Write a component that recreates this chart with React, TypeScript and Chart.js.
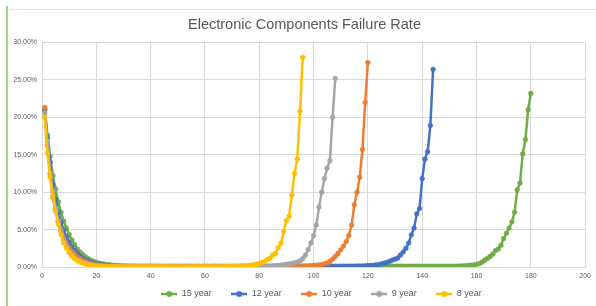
import React, { useEffect, useRef } from "react";
import { Chart, registerables } from "chart.js";

Chart.register(...registerables);

const seriesNames = ["15 year", "12 year", "10 year", "9 year", "8 year"];
const seriesColors = ["#70AD47", "#4472C4", "#ED7D31", "#A5A5A5", "#FFC000"];

const xTicks = [0, 20, 40, 60, 80, 100, 120, 140, 160, 180, 200];
const yTicks = [0, 5, 10, 15, 20, 25, 30];

// failure rate in %, one value per month starting at month 1
const year15 = [
  21.0, 17.6, 14.8, 12.2, 10.4, 8.7, 7.3, 6.1, 5.2, 4.3,
  3.6, 3.0, 2.4, 2.0, 1.65, 1.35, 1.1, 0.9, 0.75, 0.62,
  0.52, 0.44, 0.37, 0.31, 0.27, 0.23, 0.2, 0.18, 0.16, 0.15,
  0.14, 0.13, 0.13, 0.12, 0.12, 0.12, 0.11, 0.11, 0.11, 0.11,
  0.1, 0.1, 0.1, 0.1, 0.1, 0.1, 0.1, 0.1, 0.1, 0.1,
  0.1, 0.1, 0.1, 0.1, 0.1, 0.1, 0.1, 0.1, 0.1, 0.1,
  0.1, 0.1, 0.1, 0.1, 0.1, 0.1, 0.1, 0.1, 0.1, 0.1,
  0.1, 0.1, 0.1, 0.1, 0.1, 0.1, 0.1, 0.1, 0.1, 0.1,
  0.1, 0.1, 0.1, 0.1, 0.1, 0.1, 0.1, 0.1, 0.1, 0.1,
  0.1, 0.1, 0.1, 0.1, 0.1, 0.1, 0.1, 0.1, 0.1, 0.1,
  0.1, 0.1, 0.1, 0.1, 0.1, 0.1, 0.1, 0.1, 0.1, 0.1,
  0.1, 0.1, 0.1, 0.1, 0.1, 0.1, 0.1, 0.1, 0.1, 0.1,
  0.1, 0.1, 0.1, 0.1, 0.1, 0.1, 0.1, 0.1, 0.1, 0.1,
  0.1, 0.1, 0.1, 0.1, 0.1, 0.1, 0.1, 0.1, 0.1, 0.1,
  0.1, 0.1, 0.1, 0.1, 0.1, 0.1, 0.1, 0.1, 0.1, 0.1,
  0.1, 0.11, 0.12, 0.13, 0.15, 0.17, 0.2, 0.24, 0.28, 0.34,
  0.45, 0.65, 0.9, 1.15, 1.4, 1.7, 2.2, 2.4, 2.9, 3.8,
  4.5, 5.2, 6.0, 7.3, 10.3, 11.2, 15.1, 17.0, 21.0, 23.2,
];

const year12 = [
  21.0, 17.2, 14.0, 11.0, 9.0, 7.3, 6.0, 4.9, 4.0, 3.3,
  2.7, 2.2, 1.8, 1.45, 1.18, 0.96, 0.78, 0.63, 0.51, 0.41,
  0.33, 0.27, 0.22, 0.18, 0.15, 0.12, 0.1, 0.09, 0.08, 0.08,
  0.07, 0.07, 0.06, 0.06, 0.06, 0.05, 0.05, 0.05, 0.05, 0.05,
  0.05, 0.05, 0.05, 0.05, 0.05, 0.05, 0.05, 0.05, 0.05, 0.05,
  0.05, 0.05, 0.05, 0.05, 0.05, 0.05, 0.05, 0.05, 0.05, 0.05,
  0.05, 0.05, 0.05, 0.05, 0.05, 0.05, 0.05, 0.05, 0.05, 0.05,
  0.05, 0.05, 0.05, 0.05, 0.05, 0.05, 0.05, 0.05, 0.05, 0.05,
  0.05, 0.05, 0.05, 0.05, 0.05, 0.05, 0.05, 0.05, 0.05, 0.05,
  0.05, 0.05, 0.05, 0.05, 0.05, 0.05, 0.05, 0.05, 0.05, 0.05,
  0.05, 0.05, 0.05, 0.05, 0.05, 0.05, 0.05, 0.05, 0.06, 0.06,
  0.06, 0.07, 0.07, 0.08, 0.09, 0.1, 0.11, 0.13, 0.15, 0.17,
  0.2, 0.23, 0.27, 0.32, 0.4, 0.5, 0.6, 0.75, 0.93, 1.05,
  1.2, 1.6, 2.0, 2.5, 3.2, 4.3, 5.2, 7.1, 7.8, 11.8,
  14.4, 15.4, 18.9, 26.4,
];

const year10 = [
  21.3, 16.2, 12.4, 9.3, 7.6, 6.2, 5.0, 4.0, 3.2, 2.6,
  2.1, 1.7, 1.35, 1.08, 0.87, 0.7, 0.56, 0.45, 0.36, 0.29,
  0.23, 0.19, 0.15, 0.12, 0.1, 0.08, 0.07, 0.06, 0.05, 0.05,
  0.04, 0.04, 0.04, 0.03, 0.03, 0.03, 0.03, 0.03, 0.03, 0.03,
  0.03, 0.03, 0.03, 0.03, 0.03, 0.03, 0.03, 0.03, 0.03, 0.03,
  0.03, 0.03, 0.03, 0.03, 0.03, 0.03, 0.03, 0.03, 0.03, 0.03,
  0.03, 0.03, 0.03, 0.03, 0.03, 0.03, 0.03, 0.03, 0.03, 0.03,
  0.03, 0.03, 0.03, 0.03, 0.03, 0.03, 0.03, 0.03, 0.03, 0.03,
  0.03, 0.03, 0.03, 0.03, 0.04, 0.04, 0.04, 0.04, 0.05, 0.05,
  0.05, 0.06, 0.07, 0.08, 0.09, 0.1, 0.12, 0.14, 0.16, 0.19,
  0.22, 0.27, 0.33, 0.42, 0.55, 0.75, 1.05, 1.4, 1.8, 2.3,
  2.8, 3.4, 4.2, 5.6, 8.3, 10.0, 12.0, 15.7, 22.0, 27.3,
];

const year9 = [
  20.5, 16.8, 12.6, 10.1, 7.9, 6.1, 4.7, 3.6, 2.8, 2.15,
  1.65, 1.28, 0.98, 0.77, 0.6, 0.47, 0.37, 0.29, 0.23, 0.18,
  0.14, 0.11, 0.09, 0.07, 0.06, 0.05, 0.05, 0.04, 0.04, 0.04,
  0.03, 0.03, 0.03, 0.03, 0.03, 0.03, 0.03, 0.03, 0.03, 0.03,
  0.03, 0.03, 0.03, 0.03, 0.03, 0.03, 0.03, 0.03, 0.03, 0.03,
  0.03, 0.03, 0.03, 0.03, 0.03, 0.03, 0.03, 0.03, 0.03, 0.03,
  0.03, 0.03, 0.03, 0.03, 0.03, 0.03, 0.03, 0.03, 0.04, 0.04,
  0.04, 0.04, 0.05, 0.05, 0.05, 0.05, 0.05, 0.06, 0.06, 0.07,
  0.08, 0.09, 0.1, 0.12, 0.14, 0.17, 0.2, 0.24, 0.29, 0.34,
  0.4, 0.47, 0.55, 0.65, 0.8, 1.1, 1.6, 2.3, 3.2, 4.2,
  5.6, 8.0, 10.0, 11.8, 13.2, 14.2, 20.0, 25.2,
];

const year8 = [
  20.0, 15.2, 12.0, 9.6, 7.4, 5.7, 4.3, 3.2, 2.5, 1.9,
  1.45, 1.1, 0.85, 0.66, 0.51, 0.4, 0.31, 0.24, 0.19, 0.15,
  0.12, 0.09, 0.07, 0.06, 0.05, 0.04, 0.04, 0.03, 0.03, 0.03,
  0.03, 0.02, 0.02, 0.02, 0.02, 0.02, 0.02, 0.02, 0.02, 0.02,
  0.02, 0.02, 0.02, 0.02, 0.02, 0.02, 0.02, 0.02, 0.02, 0.02,
  0.02, 0.02, 0.02, 0.02, 0.02, 0.02, 0.02, 0.02, 0.02, 0.02,
  0.02, 0.03, 0.03, 0.03, 0.03, 0.04, 0.04, 0.05, 0.05, 0.06,
  0.07, 0.08, 0.1, 0.12, 0.15, 0.19, 0.24, 0.3, 0.38, 0.48,
  0.6, 0.76, 1.0, 1.2, 1.6, 1.8, 2.6, 3.2, 4.7, 6.2,
  6.8, 9.6, 12.5, 14.4, 20.8, 28.0,
];

const seriesValues = [year15, year12, year10, year9, year8];

const FONT = "'Liberation Sans', Arial, sans-serif";
const TEXT = "#595959";
const GRID = "#d9d9d9";

function legendMarker(color: string): HTMLCanvasElement {
  const c = document.createElement("canvas");
  c.width = 16;
  c.height = 8;
  const ctx = c.getContext("2d")!;
  ctx.strokeStyle = color;
  ctx.lineWidth = 2.5;
  ctx.beginPath();
  ctx.moveTo(0, 4);
  ctx.lineTo(16, 4);
  ctx.stroke();
  ctx.fillStyle = color;
  ctx.beginPath();
  ctx.arc(8, 4, 3, 0, Math.PI * 2);
  ctx.fill();
  return c;
}

// nudges the title / legend boxes and lets the x labels spill below the axis box
const shiftBoxes = {
  id: "shiftBoxes",
  afterLayout(chart: any) {
    if (chart.titleBlock) {
      chart.titleBlock.left += 4;
      chart.titleBlock.right += 4;
    }
    if (chart.legend) {
      chart.legend.left += 21;
      chart.legend.right += 21;
    }
    if (chart.scales && chart.scales.x) {
      chart.scales.x.bottom += 14;
    }
  },
};

export default function App() {
  const canvasRef = useRef<HTMLCanvasElement | null>(null);

  useEffect(() => {
    if (!canvasRef.current) return;
    const markers = seriesColors.map(legendMarker);
    const datasets = seriesNames.map((name, i) => ({
      label: name,
      data: seriesValues[i].map((v, k) => ({ x: k + 1, y: v })),
      borderColor: seriesColors[i],
      backgroundColor: seriesColors[i],
      pointBackgroundColor: seriesColors[i],
      pointBorderColor: seriesColors[i],
      borderWidth: 2.5,
      pointRadius: 2.4,
      pointBorderWidth: 0.5,
      tension: 0,
      order: seriesNames.length - i,
    }));

    const chart = new Chart(canvasRef.current, {
      type: "line",
      data: { datasets },
      plugins: [shiftBoxes],
      options: {
        responsive: false,
        animation: false,
        layout: { padding: { left: 14, right: 9, top: 0, bottom: 0 } },
        plugins: {
          title: {
            display: true,
            text: "Electronic Components Failure Rate",
            color: TEXT,
            font: { family: FONT, size: 14.5, weight: "normal" },
            padding: { top: 16, bottom: 9 },
          },
          legend: {
            display: true,
            position: "bottom",
            maxHeight: 36,
            labels: {
              color: TEXT,
              font: { family: FONT, size: 9 },
              usePointStyle: true,
              pointStyleWidth: 16,
              boxHeight: 8,
              padding: 19.5,
              sort: (a: any, b: any) => a.datasetIndex - b.datasetIndex,
              generateLabels: (ch: any) => {
                const items = Chart.defaults.plugins.legend.labels.generateLabels(ch);
                return items.map((it: any) => ({
                  ...it,
                  pointStyle: markers[it.datasetIndex],
                  fontColor: TEXT,
                }));
              },
            },
          },
          tooltip: { enabled: false },
        },
        scales: {
          x: {
            type: "linear",
            min: 0,
            max: 200,
            afterBuildTicks: (scale: any) => {
              scale.ticks = xTicks.map((v) => ({ value: v }));
            },
            afterFit: (scale: any) => {
              scale.height = 3;
            },
            ticks: {
              color: TEXT,
              font: { family: FONT, size: 7 },
              padding: 5,
              maxRotation: 0,
            },
            grid: { color: GRID, drawTicks: false },
            border: { color: GRID },
          },
          y: {
            type: "linear",
            min: 0,
            max: 30,
            afterBuildTicks: (scale: any) => {
              scale.ticks = yTicks.map((v) => ({ value: v }));
            },
            afterFit: (scale: any) => {
              scale.width = 28;
            },
            ticks: {
              color: TEXT,
              font: { family: FONT, size: 7 },
              padding: 5,
              callback: (v: any) => Number(v).toFixed(2) + "%",
            },
            grid: { color: GRID, drawTicks: false },
            border: { display: false },
          },
        },
      },
    });
    return () => chart.destroy();
  }, []);

  return (
    <div style={{ position: "absolute", left: 0, top: 0, width: 596, height: 306, background: "#fff" }}>
      <div style={{ position: "absolute", left: 6, top: 6, width: 2, height: 300, background: "#a9d18e" }} />
      <div style={{ position: "absolute", left: 10, top: 9, width: 586, height: 1, background: "#e3e3e3" }} />
      <canvas ref={canvasRef} width={596} height={306} style={{ position: "absolute", left: 0, top: 0 }} />
    </div>
  );
}
